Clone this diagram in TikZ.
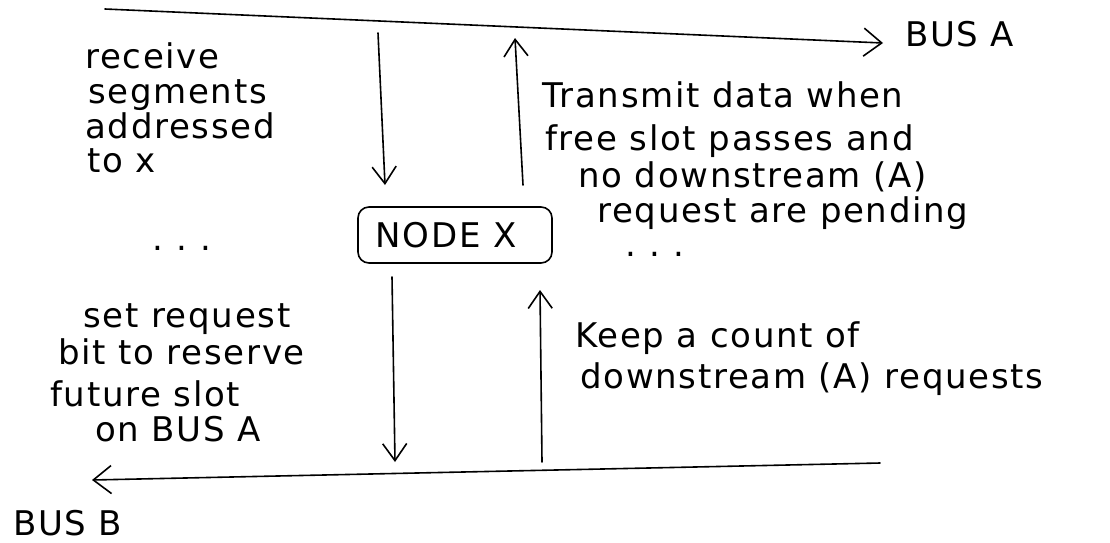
\documentclass[tikz,border=0pt]{standalone}
\usepackage{fontspec}
\setmainfont{DejaVu Sans}[LetterSpace=5]
\usetikzlibrary{arrows.meta}
\begin{document}
\begin{tikzpicture}[x=1pt,y=-1pt,
  ink/.style={line width=1.6pt, line cap=round, black},
  busline/.style={ink, -{Straight Barb[length=18pt,width=28pt,line width=1.6pt]}},
  flow/.style={ink, -{Straight Barb[length=17pt,width=24pt,line width=1.6pt]}},
  note/.style={anchor=base west, inner sep=0pt, font=\fontsize{34}{38}\selectfont},
  dots/.style={anchor=base, inner sep=0pt,
    font=\fontsize{34}{38}\selectfont\addfontfeature{LetterSpace=40}},
  nodebox/.style={draw, line width=1.6pt, rounded corners=11pt, minimum width=194pt,
    minimum height=56pt, inner sep=0pt, font=\fontsize{34}{38}\selectfont}]
\useasboundingbox (0,0) rectangle (1110,542);
\fill[white] (0,0) rectangle (1110,542);

% the two buses
\coordinate (aStart) at (105,9);
\coordinate (aEnd) at (883,43);
\coordinate (bStart) at (880,463);
\coordinate (bEnd) at (92,480);
\draw[busline] (aStart) -- (aEnd);
\draw[busline] (bStart) -- (bEnd);
\node[note] (busA) at (905,46) {BUS A};
\node[note] (busB) at (13,535) {BUS B};

% the station
\node[nodebox] (nodex) at (455,235) {NODE X\hspace*{18pt}};

% taps between the buses and the station
\coordinate (rxTop) at (378,33);
\coordinate (rxIn) at (385,185);
\coordinate (txOut) at (523,185);
\coordinate (txTop) at (515,38);
\coordinate (rqOut) at (392,277);
\coordinate (rqBus) at (395,462);
\coordinate (ctBus) at (542,462);
\coordinate (ctIn) at (540,290);
\draw[flow] (rxTop) -- (rxIn);
\draw[flow] (txOut) -- (txTop);
\draw[flow] (rqOut) -- (rqBus);
\draw[flow] (ctBus) -- (ctIn);

% notes on reception
\node[note] (r1) at (85,68) {receive};
\node[note] (r2) at (88,103) {segments};
\node[note] (r3) at (85,138) {addressed};
\node[note] (r4) at (87,172) {to x};
\node[dots] (dotsL) at (182,250) {...};

% notes on transmission
\node[note] (t1) at (542,107) {Transmit data when};
\node[note] (t2) at (545,150) {free slot passes and};
\node[note] (t3) at (578,187) {no downstream (A)};
\node[note] (t4) at (597,222) {request are pending};
\node[dots] (dotsR) at (655,256) {...};

% notes on requests
\node[note] (q1) at (83,327) {set request};
\node[note] (q2) at (58,364) {bit to reserve};
\node[note] (q3) at (50,406) {future slot};
\node[note] (q4) at (95,441) {on BUS A};

% notes on counting
\node[note] (c1) at (575,347) {Keep a count of};
\node[note] (c2) at (580,388) {downstream (A) requests};
\end{tikzpicture}
\end{document}
